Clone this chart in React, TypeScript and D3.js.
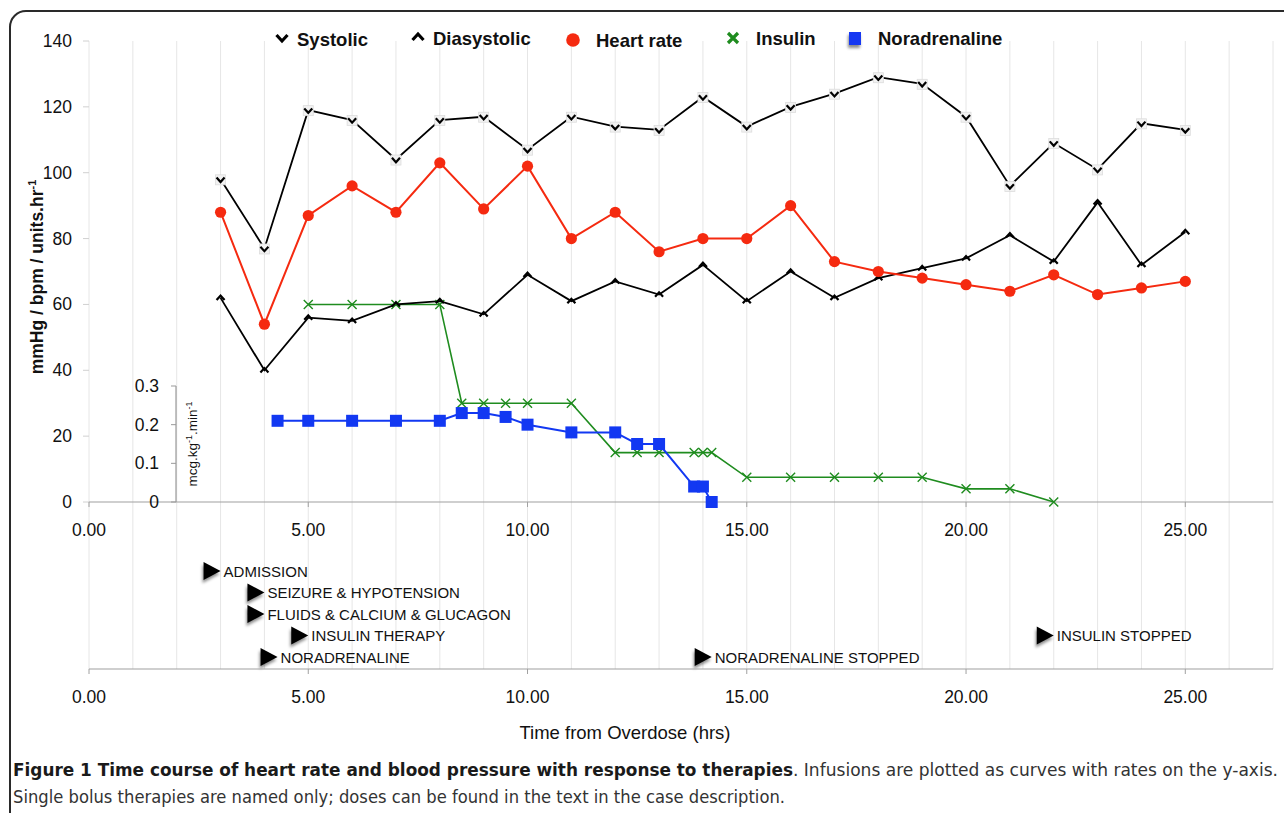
import React from 'react';
import * as d3 from 'd3';

// blood pressure / heart rate readings (hourly)
const bpHours = [3, 4, 5, 6, 7, 8, 9, 10, 11, 12, 13, 14, 15, 16, 17, 18, 19, 20, 21, 22, 23, 24, 25];
const systolic = [98, 77, 119, 116, 104, 116, 117, 107, 117, 114, 113, 123, 114, 120, 124, 129, 127, 117, 96, 109, 101, 115, 113];
const diastolic = [62, 40, 56, 55, 60, 61, 57, 69, 61, 67, 63, 72, 61, 70, 62, 68, 71, 74, 81, 73, 91, 72, 82];
const heartRate = [88, 54, 87, 96, 88, 103, 89, 102, 80, 88, 76, 80, 80, 90, 73, 70, 68, 66, 64, 69, 63, 65, 67];

// infusions
const insulinHours = [5, 6, 7, 8, 8.5, 9, 9.5, 10, 11, 12, 12.5, 13, 13.8, 14, 14.2, 15, 16, 17, 18, 19, 20, 21, 22];
const insulinRate = [60, 60, 60, 60, 30, 30, 30, 30, 30, 15, 15, 15, 15, 15, 15, 7.5, 7.5, 7.5, 7.5, 7.5, 4, 4, 0];
const noradHours = [4.3, 5, 6, 7, 8, 8.5, 9, 9.5, 10, 11, 12, 12.5, 13, 13.8, 14, 14.2];
const noradRate = [0.21, 0.21, 0.21, 0.21, 0.21, 0.23, 0.23, 0.22, 0.2, 0.18, 0.18, 0.15, 0.15, 0.04, 0.04, 0];

// single bolus events
const eventHours = [3, 4, 4, 5, 4.3, 14.2, 22];
const eventLabels = ['ADMISSION', 'SEIZURE & HYPOTENSION', 'FLUIDS & CALCIUM & GLUCAGON', 'INSULIN THERAPY', 'NORADRENALINE', 'NORADRENALINE STOPPED', 'INSULIN STOPPED'];
const eventRows = [0, 1, 2, 3, 4, 4, 3];

const mainTicks = [0, 20, 40, 60, 80, 100, 120, 140];
const rateTicks = [0, 0.1, 0.2, 0.3];
const hourTicks = [0, 5, 10, 15, 20, 25];

const RED = '#f52a10';
const GREEN = '#1f8c1f';
const BLUE = '#1238f2';
const FONT = '"Liberation Sans", Arial, Helvetica, sans-serif';

const x = d3.scaleLinear().domain([0, 27]).range([89, 1273]);
const y = d3.scaleLinear().domain([0, 140]).range([502, 41]);
const yRate = d3.scaleLinear().domain([0, 0.3]).range([502, 386]);
const rowY = d3.scaleLinear().domain([0, 4]).range([571, 657]);

const lineOf = (xs: number[], vs: number[], ys: (v: number) => number) =>
  d3.line<number>().x((_, i) => x(xs[i])).y((v) => ys(v))(vs) || '';

const vMark = (cx: number, cy: number, w = 4, h = 2.2) =>
  `M${cx - w},${cy - h}L${cx},${cy + h}L${cx + w},${cy - h}`;
const caretMark = (cx: number, cy: number, w = 4, h = 2.2) =>
  `M${cx - w},${cy + h}L${cx},${cy - h}L${cx + w},${cy + h}`;
const xMark = (cx: number, cy: number, s = 4.5) =>
  `M${cx - s},${cy - s}L${cx + s},${cy + s}M${cx - s},${cy + s}L${cx + s},${cy - s}`;

export default function App() {
  const lowerAxisY = 669;
  return (
    <svg width={1284} height={813} style={{ position: 'absolute', left: 0, top: 0, background: '#fff' }} fontFamily={FONT}>
      <defs>
        <filter id="shadow" x="-50%" y="-50%" width="200%" height="200%">
          <feDropShadow dx={-1} dy={3} stdDeviation={1.6} floodColor="#000" floodOpacity={0.45} />
        </filter>
      </defs>
      <rect x={0} y={0} width={1284} height={813} fill="#fff" />
      <rect x={10} y={11} width={1320} height={900} rx={16} fill="none" stroke="#2a2a2a" strokeWidth={2} />

      {/* vertical grid */}
      {d3.range(0, 28).map((h) => (
        <line key={h} x1={x(h)} x2={x(h)} y1={41} y2={lowerAxisY} stroke="#e6e6e6" strokeWidth={1} />
      ))}

      {/* main y axis ticks */}
      {mainTicks.map((t) => (
        <g key={t}>
          <line x1={83} x2={89} y1={y(t)} y2={y(t)} stroke="#d0d0d0" />
          <text x={72} y={y(t) + 6} textAnchor="end" fontSize={17.5} fill="#111">{t}</text>
        </g>
      ))}
      <text transform={`translate(43,${277}) rotate(-90)`} textAnchor="middle" fontSize={17.5} fontWeight="bold" fill="#111">
        mmHg / bpm / units.hr<tspan dy={-7} fontSize={11}>-1</tspan>
      </text>

      {/* main x axis */}
      <line x1={x(0)} x2={x(27)} y1={502} y2={502} stroke="#a0a0a0" strokeWidth={1.2} />
      {hourTicks.map((h) => (
        <g key={h}>
          <line x1={x(h)} x2={x(h)} y1={502} y2={507} stroke="#a0a0a0" />
          <text x={x(h)} y={536} textAnchor="middle" fontSize={17.5} fill="#111">{h.toFixed(2)}</text>
        </g>
      ))}

      {/* inset rate axis */}
      <line x1={176} x2={176} y1={yRate(0.3)} y2={yRate(0)} stroke="#999" strokeWidth={1.2} />
      {rateTicks.map((t) => (
        <g key={t}>
          <line x1={171} x2={176} y1={yRate(t)} y2={yRate(t)} stroke="#999" />
          <text x={159} y={yRate(t) + 6} textAnchor="end" fontSize={17.5} fill="#111">{t === 0 ? '0' : t.toFixed(1)}</text>
        </g>
      ))}
      <text transform={`translate(197,${444}) rotate(-90)`} textAnchor="middle" fontSize={13.5} fill="#111">
        mcg.kg<tspan dy={-5} fontSize={9}>-1</tspan><tspan dy={5}>.min</tspan><tspan dy={-5} fontSize={9}>-1</tspan>
      </text>

      {/* series lines */}
      <path d={lineOf(insulinHours, insulinRate, y)} fill="none" stroke={GREEN} strokeWidth={1.6} />
      <path d={lineOf(noradHours, noradRate, yRate)} fill="none" stroke={BLUE} strokeWidth={2} />
      <path d={lineOf(bpHours, diastolic, y)} fill="none" stroke="#000" strokeWidth={1.8} />
      <path d={lineOf(bpHours, systolic, y)} fill="none" stroke="#000" strokeWidth={1.8} />
      <path d={lineOf(bpHours, heartRate, y)} fill="none" stroke={RED} strokeWidth={2} />

      {/* markers */}
      {insulinRate.map((v, i) => (
        <path key={`in${i}`} d={xMark(x(insulinHours[i]), y(v))} stroke={GREEN} strokeWidth={1.4} fill="none" />
      ))}
      {noradRate.map((v, i) => (
        <rect key={`no${i}`} x={x(noradHours[i]) - 6} y={yRate(v) - 6} width={12} height={12} fill={BLUE} />
      ))}
      {systolic.map((v, i) => (
        <g key={`sy${i}`}>
          <rect x={x(bpHours[i]) - 5} y={y(v) - 4.5} width={10} height={10} fill="#f2f2f2" stroke="#dcdcdc" strokeWidth={0.8} />
          <path d={vMark(x(bpHours[i]), y(v) + 0.5)} stroke="#000" strokeWidth={2.2} fill="none" />
        </g>
      ))}
      {diastolic.map((v, i) => (
        <path key={`di${i}`} d={caretMark(x(bpHours[i]), y(v))} stroke="#000" strokeWidth={2.2} fill="none" />
      ))}
      {heartRate.map((v, i) => (
        <circle key={`hr${i}`} cx={x(bpHours[i])} cy={y(v)} r={5.6} fill={RED} />
      ))}

      {/* legend */}
      <path d={vMark(282, 38, 5.5, 3)} stroke="#000" strokeWidth={3.2} fill="none" />
      <text x={297} y={46} fontSize={18.5} fontWeight="bold" fill="#111">Systolic</text>
      <path d={caretMark(418, 37, 5.5, 3)} stroke="#000" strokeWidth={3.2} fill="none" />
      <text x={433} y={45} fontSize={18.5} fontWeight="bold" fill="#111">Diasystolic</text>
      <circle cx={573} cy={40} r={6.8} fill={RED} />
      <text x={596} y={47} fontSize={18.5} fontWeight="bold" fill="#111">Heart rate</text>
      <path d={xMark(733, 38, 5)} stroke={GREEN} strokeWidth={3.2} fill="none" />
      <text x={756} y={45} fontSize={18.5} fontWeight="bold" fill="#111">Insulin</text>
      <rect x={849} y={32} width={12} height={13} fill={BLUE} filter="url(#shadow)" />
      <text x={878} y={45} fontSize={18.5} fontWeight="bold" fill="#111">Noradrenaline</text>

      {/* events */}
      {eventLabels.map((label, i) => {
        const tip = x(eventHours[i]);
        const cy = rowY(eventRows[i]);
        return (
          <g key={label}>
            <path d={`M${tip - 17},${cy - 9}L${tip},${cy}L${tip - 17},${cy + 9}Z`} fill="#000" filter="url(#shadow)" />
            <text x={tip + 3} y={cy + 5.5} fontSize={15} fill="#111">{label}</text>
          </g>
        );
      })}

      {/* lower x axis */}
      <line x1={x(0)} x2={x(27)} y1={lowerAxisY} y2={lowerAxisY} stroke="#a0a0a0" strokeWidth={1.2} />
      {hourTicks.map((h) => (
        <g key={`l${h}`}>
          <line x1={x(h)} x2={x(h)} y1={lowerAxisY} y2={lowerAxisY + 5} stroke="#a0a0a0" />
          <text x={x(h)} y={703} textAnchor="middle" fontSize={17.5} fill="#111">{h.toFixed(2)}</text>
        </g>
      ))}
      <text x={625} y={739} textAnchor="middle" fontSize={18.5} fill="#111">Time from Overdose (hrs)</text>

      {/* caption */}
      <text x={13} y={776} fontSize={18} fontWeight="bold" fill="#1a1a1a"
        fontFamily='"Liberation Sans Narrow", "DejaVu Sans Condensed", Arial, sans-serif'
        textLength={780} lengthAdjust="spacingAndGlyphs">
        Figure 1 Time course of heart rate and blood pressure with response to therapies
      </text>
      <text x={793} y={776} fontSize={18} fill="#333"
        fontFamily='"Liberation Sans Narrow", "DejaVu Sans Condensed", Arial, sans-serif'
        textLength={485} lengthAdjust="spacingAndGlyphs">
        . Infusions are plotted as curves with rates on the y-axis.
      </text>
      <text x={13} y={803} fontSize={18} fill="#333"
        fontFamily='"Liberation Sans Narrow", "DejaVu Sans Condensed", Arial, sans-serif'
        textLength={772} lengthAdjust="spacingAndGlyphs">
        Single bolus therapies are named only; doses can be found in the text in the case description.
      </text>
    </svg>
  );
}
